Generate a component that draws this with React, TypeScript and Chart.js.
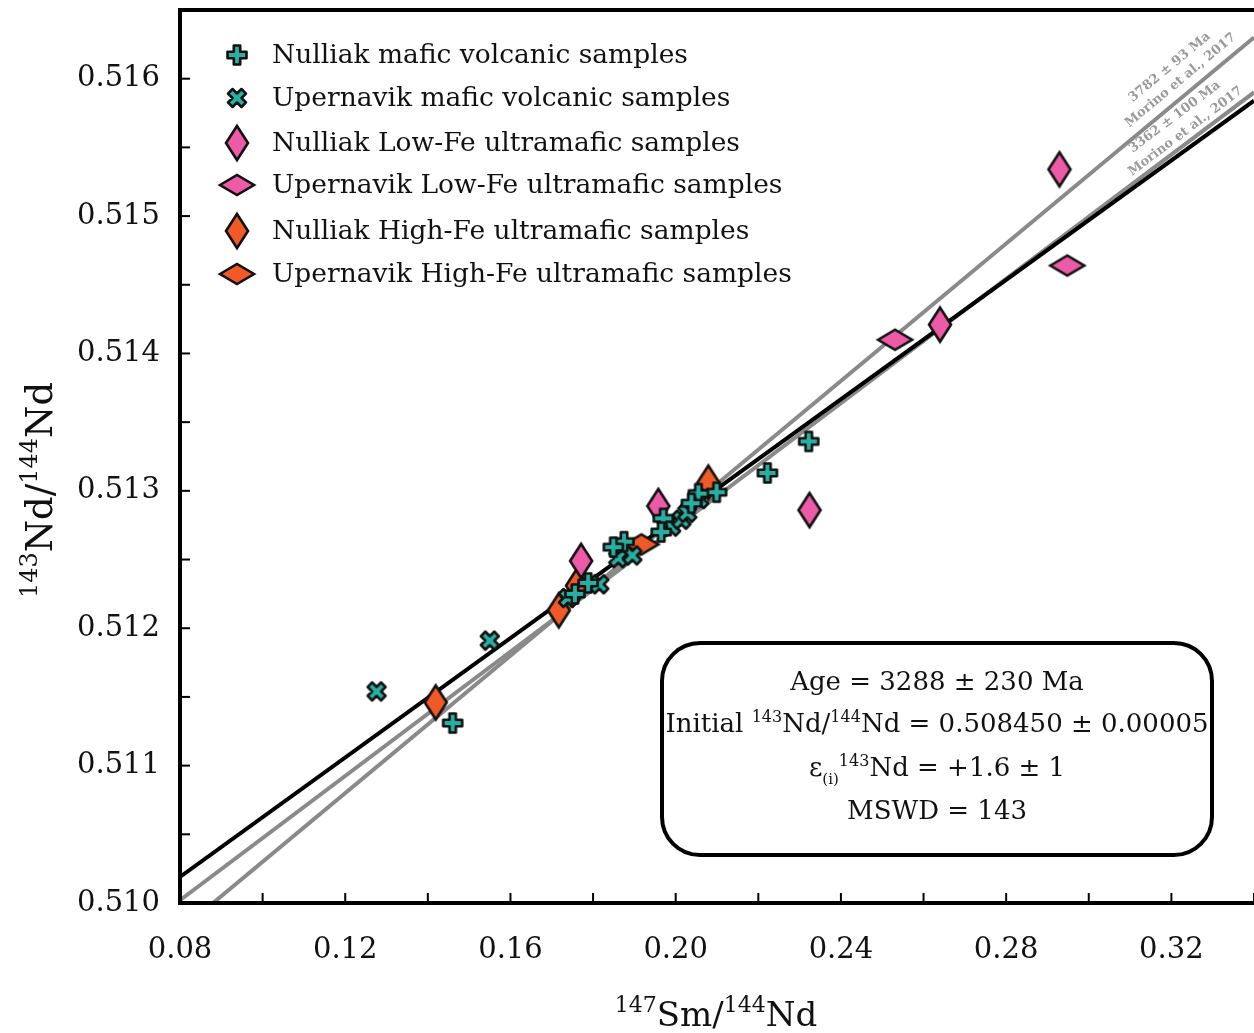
import React, { useEffect, useRef } from 'react';
import { Chart, registerables } from 'chart.js';

Chart.register(...registerables);

const FONT = '"DejaVu Serif", "Liberation Serif", serif';

// Axis ranges / tick steps
const xMin = 0.08;
const xMax = 0.34;
const xStep = 0.02;
const yMin = 0.51;
const yMax = 0.5165;
const yStep = 0.0005;

// [147Sm/144Nd, 143Nd/144Nd]
const nulliakMafic: [number, number][] = [
  [0.146, 0.51131], [0.2322, 0.51336], [0.2222, 0.51313], [0.2099, 0.51299],
  [0.2055, 0.51298], [0.2038, 0.51291], [0.197, 0.5128], [0.1965, 0.5127],
  [0.1875, 0.51263], [0.1849, 0.51259], [0.1788, 0.51233], [0.1756, 0.51225],
];
const upernavikMafic: [number, number][] = [
  [0.1276, 0.51154], [0.155, 0.51191], [0.1739, 0.51222], [0.1815, 0.51232],
  [0.1861, 0.51251], [0.1895, 0.51253], [0.1989, 0.51274], [0.2014, 0.51279],
  [0.2028, 0.51284], [0.2057, 0.51294],
];
const nulliakLowFe: [number, number][] = [
  [0.2929, 0.51534], [0.264, 0.51421], [0.2324, 0.51286], [0.1771, 0.51249], [0.1958, 0.51289],
];
const upernavikLowFe: [number, number][] = [
  [0.2948, 0.51464], [0.2531, 0.5141],
];
const nulliakHighFe: [number, number][] = [
  [0.1419, 0.51146], [0.1717, 0.51213], [0.1761, 0.51231], [0.2079, 0.51306],
];
const upernavikHighFe: [number, number][] = [
  [0.1917, 0.51261],
];

// Isochron lines (values at x = 0.08 and x = 0.34)
const isochronX = [0.08, 0.34];
const isochronThisStudy = [0.51019, 0.51584];
const isochronMorino3782 = [0.5098, 0.5163];
const isochronMorino3362 = [0.51002, 0.5159];

const legendLabels = [
  'Nulliak mafic volcanic samples',
  'Upernavik mafic volcanic samples',
  'Nulliak Low-Fe ultramafic samples',
  'Upernavik Low-Fe ultramafic samples',
  'Nulliak High-Fe ultramafic samples',
  'Upernavik High-Fe ultramafic samples',
];

const TEAL = '#27b0a1';
const PINK = '#ec5aa8';
const ORANGE = '#f15a26';

function makeMarker(kind: string, fill: string): HTMLCanvasElement {
  const c = document.createElement('canvas');
  let w = 26, h = 26;
  if (kind === 'dv') { w = 28; h = 42; }
  if (kind === 'dh') { w = 42; h = 28; }
  c.width = w; c.height = h;
  const g = c.getContext('2d')!;
  g.translate(w / 2, h / 2);
  g.beginPath();
  if (kind === 'plus' || kind === 'x') {
    const S = 9.5, T = 3.2;
    if (kind === 'x') g.rotate(Math.PI / 4);
    const pts = [[-T, -S], [T, -S], [T, -T], [S, -T], [S, T], [T, T], [T, S], [-T, S], [-T, T], [-S, T], [-S, -T], [-T, -T]];
    pts.forEach((p, i) => (i === 0 ? g.moveTo(p[0], p[1]) : g.lineTo(p[0], p[1])));
  } else if (kind === 'dv') {
    g.moveTo(0, -17); g.lineTo(11, 0); g.lineTo(0, 17); g.lineTo(-11, 0);
  } else {
    g.moveTo(-17, 0); g.lineTo(0, -10); g.lineTo(17, 0); g.lineTo(0, 10);
  }
  g.closePath();
  g.fillStyle = fill;
  g.fill();
  g.lineWidth = 2.6;
  g.strokeStyle = '#111';
  g.lineJoin = kind === 'plus' || kind === 'x' ? 'round' : 'miter';
  g.stroke();
  return c;
}

type Seg = { t: string; size: number; dy?: number; bold?: boolean };

function drawRich(ctx: CanvasRenderingContext2D, segs: Seg[], x: number, y: number, align: 'center' | 'left') {
  const widths = segs.map((s) => {
    ctx.font = `${s.bold ? 'bold ' : ''}${s.size}px ${FONT}`;
    return ctx.measureText(s.t).width;
  });
  const total = widths.reduce((a, b) => a + b, 0);
  let cx = align === 'center' ? x - total / 2 : x;
  ctx.textAlign = 'left';
  ctx.textBaseline = 'alphabetic';
  segs.forEach((s, i) => {
    ctx.font = `${s.bold ? 'bold ' : ''}${s.size}px ${FONT}`;
    ctx.fillText(s.t, cx, y + (s.dy || 0));
    cx += widths[i];
  });
}

export default function App() {
  const ref = useRef<HTMLCanvasElement | null>(null);

  useEffect(() => {
    document.body.style.margin = '0';
    const canvas = ref.current!;
    const mPlus = makeMarker('plus', TEAL);
    const mX = makeMarker('x', TEAL);
    const mPinkV = makeMarker('dv', PINK);
    const mPinkH = makeMarker('dh', PINK);
    const mOrV = makeMarker('dv', ORANGE);
    const mOrH = makeMarker('dh', ORANGE);
    const legendMarkers = [mPlus, mX, mPinkV, mPinkH, mOrV, mOrH];

    const pts = (arr: [number, number][]) => arr.map(([x, y]) => ({ x, y }));
    const line = (ys: number[]) => isochronX.map((x, i) => ({ x, y: ys[i] }));

    const pointDs = (label: string, data: [number, number][], style: HTMLCanvasElement) => ({
      label,
      data: pts(data),
      pointStyle: style as any,
      pointRadius: 10,
      showLine: false,
    });
    const lineDs = (label: string, ys: number[], color: string, width: number) => ({
      label,
      data: line(ys),
      showLine: true,
      borderColor: color,
      borderWidth: width,
      pointRadius: 0,
      fill: false,
    });

    const decor = {
      id: 'decor',
      afterDraw(chart: any) {
        const ctx: CanvasRenderingContext2D = chart.ctx;
        const { left, top, right, bottom } = chart.chartArea;
        const xs = chart.scales.x;
        const ys = chart.scales.y;
        ctx.save();
        // frame
        ctx.strokeStyle = '#000';
        ctx.lineWidth = 4;
        ctx.lineCap = 'square';
        ctx.beginPath();
        ctx.moveTo(right + 4, top);
        ctx.lineTo(left, top);
        ctx.lineTo(left, bottom);
        ctx.lineTo(right + 4, bottom);
        ctx.stroke();
        // inward ticks
        ctx.lineWidth = 2;
        ctx.lineCap = 'butt';
        for (let i = 1; ; i++) {
          const v = yMin + i * yStep;
          if (v > yMax + 1e-9) break;
          const py = ys.getPixelForValue(v);
          ctx.beginPath(); ctx.moveTo(left, py); ctx.lineTo(left + 10, py); ctx.stroke();
        }
        for (let i = 1; ; i++) {
          const v = xMin + i * xStep;
          if (v > xMax + 1e-9) break;
          const px = xs.getPixelForValue(v);
          ctx.beginPath(); ctx.moveTo(px, bottom); ctx.lineTo(px, bottom - 10); ctx.stroke();
        }

        // rotated reference labels
        const label = (ysLine: number[], ax: number, lines: [string, number][]) => {
          const x0 = xs.getPixelForValue(isochronX[0]);
          const y0 = ys.getPixelForValue(ysLine[0]);
          const x1 = xs.getPixelForValue(isochronX[1]);
          const y1 = ys.getPixelForValue(ysLine[1]);
          const ang = Math.atan2(y1 - y0, x1 - x0);
          const t = (ax - isochronX[0]) / (isochronX[1] - isochronX[0]);
          const py = ys.getPixelForValue(ysLine[0] + t * (ysLine[1] - ysLine[0]));
          const px = xs.getPixelForValue(ax);
          lines.forEach(([txt, d]) => {
            ctx.save();
            ctx.translate(px, py);
            ctx.rotate(ang);
            ctx.fillStyle = '#9b9b9b';
            ctx.font = `bold 13px ${FONT}`;
            ctx.textAlign = 'center';
            ctx.textBaseline = 'middle';
            ctx.fillText(txt, 0, -d);
            ctx.restore();
          });
        };
        label(isochronMorino3782, 0.3244, [['3782 ± 93 Ma', 31], ['Morino et al., 2017', 14]]);
        label(isochronMorino3362, 0.3249, [['3362 ± 100 Ma', 28], ['Morino et al., 2017', 10]]);

        // legend
        const rows = [55, 98, 143, 185, 231, 274];
        ctx.fillStyle = '#111';
        legendLabels.forEach((txt, i) => {
          const m = legendMarkers[i];
          ctx.drawImage(m, 237 - m.width / 2, rows[i] - m.height / 2);
          ctx.font = `26.5px ${FONT}`;
          ctx.textAlign = 'left';
          ctx.textBaseline = 'middle';
          ctx.fillText(txt, 272, rows[i] + 1);
        });

        // info box
        const bx = 662, by = 643, bw = 550, bh = 212, r = 38;
        ctx.beginPath();
        ctx.moveTo(bx + r, by);
        ctx.lineTo(bx + bw - r, by);
        ctx.arcTo(bx + bw, by, bx + bw, by + r, r);
        ctx.lineTo(bx + bw, by + bh - r);
        ctx.arcTo(bx + bw, by + bh, bx + bw - r, by + bh, r);
        ctx.lineTo(bx + r, by + bh);
        ctx.arcTo(bx, by + bh, bx, by + bh - r, r);
        ctx.lineTo(bx, by + r);
        ctx.arcTo(bx, by, bx + r, by, r);
        ctx.closePath();
        ctx.fillStyle = '#fff';
        ctx.fill();
        ctx.lineWidth = 4;
        ctx.strokeStyle = '#000';
        ctx.stroke();
        ctx.fillStyle = '#111';
        const cxb = 937;
        drawRich(ctx, [{ t: 'Age = 3288 ± 230 Ma', size: 26 }], cxb, 690, 'center');
        drawRich(ctx, [
          { t: 'Initial ', size: 26 }, { t: '143', size: 16, dy: -10 }, { t: 'Nd/', size: 26 },
          { t: '144', size: 16, dy: -10 }, { t: 'Nd = 0.508450 ± 0.00005', size: 26 },
        ], cxb, 732, 'center');
        drawRich(ctx, [
          { t: 'ε', size: 26 }, { t: '(i)', size: 15, dy: 8 }, { t: '143', size: 16, dy: -10 },
          { t: 'Nd = +1.6 ± 1', size: 26 },
        ], cxb, 776, 'center');
        drawRich(ctx, [{ t: 'MSWD = 143', size: 26 }], cxb, 819, 'center');

        // axis titles
        drawRich(ctx, [
          { t: '147', size: 22, dy: -14 }, { t: 'Sm/', size: 34 }, { t: '144', size: 22, dy: -14 }, { t: 'Nd', size: 34 },
        ], 716, 1026, 'center');
        ctx.save();
        ctx.translate(52, 490);
        ctx.rotate(-Math.PI / 2);
        drawRich(ctx, [
          { t: '143', size: 24, dy: -15 }, { t: 'Nd/', size: 37 }, { t: '144', size: 24, dy: -15 }, { t: 'Nd', size: 37 },
        ], 0, 0, 'center');
        ctx.restore();
        ctx.restore();
      },
    };

    const chart = new Chart(canvas, {
      type: 'scatter',
      data: {
        datasets: [
          pointDs(legendLabels[0], nulliakMafic, mPlus),
          pointDs(legendLabels[1], upernavikMafic, mX),
          pointDs(legendLabels[2], nulliakLowFe, mPinkV),
          pointDs(legendLabels[3], upernavikLowFe, mPinkH),
          pointDs(legendLabels[4], nulliakHighFe, mOrV),
          pointDs(legendLabels[5], upernavikHighFe, mOrH),
          lineDs('Isochron 3288 Ma', isochronThisStudy, '#000', 4),
          lineDs('3362 ± 100 Ma (Morino et al., 2017)', isochronMorino3362, '#8a8a8a', 4),
          lineDs('3782 ± 93 Ma (Morino et al., 2017)', isochronMorino3782, '#8a8a8a', 4),
        ] as any,
      },
      options: {
        responsive: false,
        animation: false,
        devicePixelRatio: 1,
        layout: { autoPadding: false, padding: { top: 10, right: 0, left: 0, bottom: 0 } },
        plugins: { legend: { display: false }, tooltip: { enabled: false } },
        scales: {
          x: {
            type: 'linear',
            min: xMin,
            max: xMax,
            grid: { display: false },
            border: { display: false },
            ticks: {
              stepSize: xStep,
              autoSkip: false,
              maxRotation: 0,
              padding: 22,
              color: '#111',
              font: { family: FONT, size: 29 },
              callback: (v: any, i: number) => (i % 2 === 0 ? Number(v).toFixed(2) : ''),
            },
            afterFit: (s: any) => {
              s.height = 130;
              s.paddingLeft = 0;
              s.paddingRight = 0;
            },
          },
          y: {
            type: 'linear',
            min: yMin,
            max: yMax,
            grid: { display: false },
            border: { display: false },
            ticks: {
              stepSize: yStep,
              autoSkip: false,
              padding: 12,
              color: '#111',
              font: { family: FONT, size: 29 },
              callback: (v: any, i: number) => (i % 2 === 0 ? Number(v).toFixed(3) : ''),
            },
            afterFit: (s: any) => {
              s.width = 180;
              s.paddingTop = 0;
              s.paddingBottom = 0;
            },
          },
        },
      } as any,
      plugins: [decor],
    });
    return () => chart.destroy();
  }, []);

  return (
    <div style={{ position: 'absolute', left: 0, top: 0, width: 1254, height: 1033, background: '#fff' }}>
      <canvas ref={ref} width={1254} height={1033} style={{ display: 'block' }} />
    </div>
  );
}
